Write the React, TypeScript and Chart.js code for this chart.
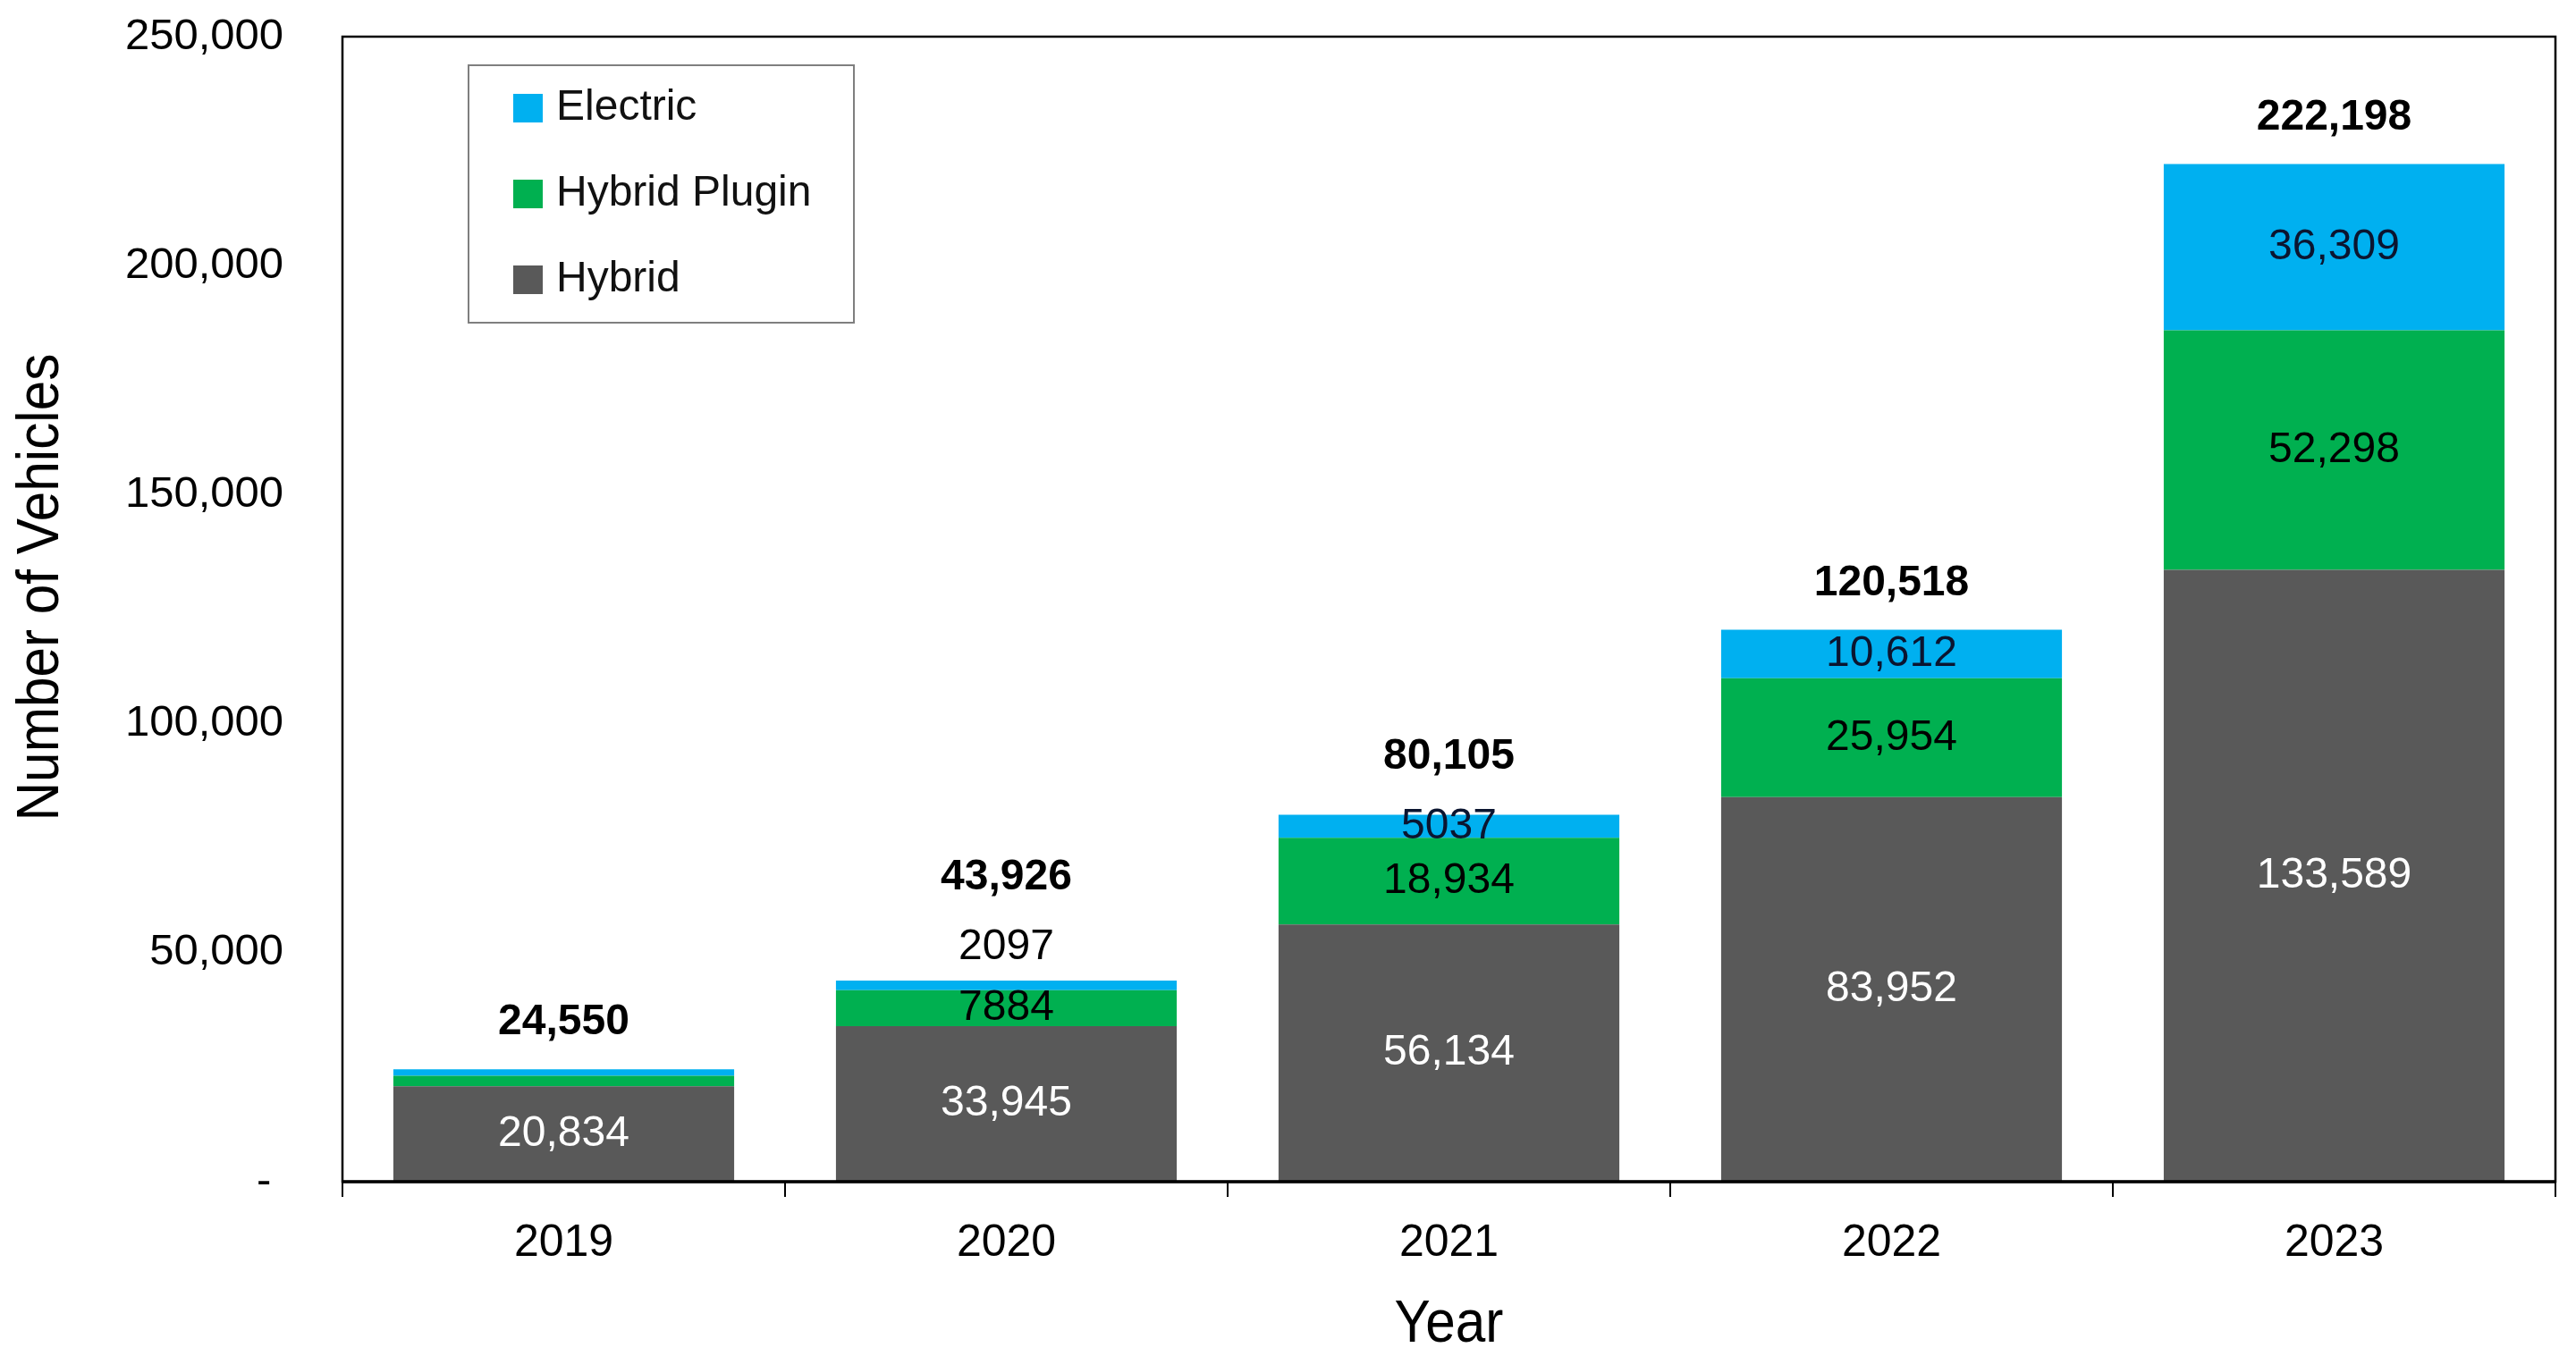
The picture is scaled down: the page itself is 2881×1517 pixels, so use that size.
import React, { useEffect, useRef } from "react";
import { Chart, registerables } from "chart.js";

Chart.register(...registerables);

// ---- data ----
const years = ["2019", "2020", "2021", "2022", "2023"];
const hybrid = [20834, 33945, 56134, 83952, 133589];
const hybridPlugin = [2300, 7884, 18934, 25954, 52298];
const electric = [1416, 2097, 5037, 10612, 36309];

const hybridLabels: (string | null)[] = ["20,834", "33,945", "56,134", "83,952", "133,589"];
const pluginLabels: (string | null)[] = [null, "7884", "18,934", "25,954", "52,298"];
const electricLabels: (string | null)[] = [null, "2097", "5037", "10,612", "36,309"];
const totalLabels = ["24,550", "43,926", "80,105", "120,518", "222,198"];

const seriesNames = ["Hybrid", "Hybrid Plugin", "Electric"];
const seriesColors = ["#595959", "#00B050", "#00B0F0"];

const xTitle = "Year";
const yTitle = "Number of Vehicles";

const FONT = "'Liberation Sans', Arial, sans-serif";

function drawNarrow(ctx: CanvasRenderingContext2D, text: string, x: number, y: number, rot: number) {
  ctx.save();
  ctx.translate(x, y);
  ctx.rotate(rot);
  ctx.scale(0.9, 1);
  ctx.textAlign = "center";
  ctx.textBaseline = "middle";
  ctx.fillStyle = "#000";
  ctx.font = `67px ${FONT}`;
  ctx.fillText(text, 0, 0);
  ctx.restore();
}

const overlayPlugin = {
  id: "overlay",
  afterDatasetsDraw(chart: any) {
    const ctx: CanvasRenderingContext2D = chart.ctx;
    const area = chart.chartArea;
    ctx.save();

    // frame
    ctx.strokeStyle = "#000";
    ctx.lineWidth = 2.5;
    ctx.strokeRect(area.left, area.top, area.right - area.left, area.bottom - area.top);
    ctx.lineWidth = 3.5;
    ctx.beginPath();
    ctx.moveTo(area.left, area.bottom);
    ctx.lineTo(area.right, area.bottom);
    ctx.stroke();

    // segment labels
    const labelSets = [hybridLabels, pluginLabels, electricLabels];
    const labelColors = ["#ffffff", "#000000", "#0b1530"];
    ctx.font = `48px ${FONT}`;
    ctx.textAlign = "center";
    ctx.textBaseline = "middle";
    const elecLabelY: (number | null)[] = years.map(() => null);
    chart.data.datasets.forEach((_ds: any, di: number) => {
      const meta = chart.getDatasetMeta(di);
      meta.data.forEach((bar: any, i: number) => {
        const txt = labelSets[di][i];
        if (!txt) return;
        const top = Math.min(bar.y, bar.base);
        const bottom = Math.max(bar.y, bar.base);
        const h = bottom - top;
        let y = (top + bottom) / 2;
        let color = labelColors[di];
        if (h < 20) {
          y = top - 37;
          color = "#000000";
        }
        if (di === 2) elecLabelY[i] = y;
        ctx.fillStyle = color;
        ctx.fillText(txt, bar.x, y);
      });
    });

    // totals
    ctx.font = `bold 48px ${FONT}`;
    ctx.fillStyle = "#000";
    const topMeta = chart.getDatasetMeta(2);
    topMeta.data.forEach((bar: any, i: number) => {
      let y = bar.y - 52;
      const ly = elecLabelY[i];
      if (ly != null) y = Math.min(y, ly - 78);
      ctx.fillText(totalLabels[i], bar.x, y);
    });

    // legend
    const lx = 524, ly0 = 73, lw = 431, lh = 288;
    ctx.fillStyle = "#fff";
    ctx.fillRect(lx, ly0, lw, lh);
    ctx.strokeStyle = "#7f7f7f";
    ctx.lineWidth = 2;
    ctx.strokeRect(lx, ly0, lw, lh);
    ctx.font = `48px ${FONT}`;
    ctx.textAlign = "left";
    ctx.textBaseline = "middle";
    const order = [2, 1, 0];
    order.forEach((di, k) => {
      const cy = 121 + k * 96;
      ctx.fillStyle = chart.data.datasets[di].backgroundColor;
      ctx.fillRect(574, cy - 16, 33, 32);
      ctx.fillStyle = "#111";
      ctx.fillText(chart.data.datasets[di].label, 622, cy);
    });

    // axis titles
    drawNarrow(ctx, yTitle, 47, 657, -Math.PI / 2);
    drawNarrow(ctx, xTitle, (area.left + area.right) / 2, 1483, 0);

    ctx.restore();
  },
};

export default function App() {
  const ref = useRef<HTMLCanvasElement | null>(null);

  useEffect(() => {
    if (!ref.current) return;
    const values = [hybrid, hybridPlugin, electric];
    const chart = new Chart(ref.current, {
      type: "bar",
      data: {
        labels: years,
        datasets: seriesNames.map((name, i) => ({
          label: name,
          data: values[i],
          backgroundColor: seriesColors[i],
          borderWidth: 0,
          barPercentage: 0.77,
          categoryPercentage: 1,
        })),
      },
      options: {
        responsive: false,
        animation: false,
        devicePixelRatio: 1,
        layout: { padding: { top: 41, right: 23, bottom: 0, left: 0 } },
        plugins: {
          legend: { display: false },
          tooltip: { enabled: false },
        },
        scales: {
          x: {
            stacked: true,
            offset: true,
            grid: {
              display: true,
              offset: true,
              drawOnChartArea: false,
              drawTicks: true,
              tickLength: 17,
              color: "#000",
              lineWidth: 2,
            },
            border: { display: false },
            ticks: { padding: 22, color: "#000", font: { family: FONT, size: 50 } },
            title: { display: false },
            afterFit: (s: any) => {
              s.height = 195;
              s.paddingLeft = 0;
              s.paddingRight = 0;
            },
          },
          y: {
            stacked: true,
            min: 0,
            max: 250000,
            grid: { display: false, drawTicks: false },
            border: { display: false },
            ticks: {
              stepSize: 50000,
              padding: 66,
              color: "#000",
              font: { family: FONT, size: 49 },
              callback: (v: any) => (Number(v) === 0 ? "- " : Number(v).toLocaleString("en-US")),
            },
            afterFit: (s: any) => {
              s.width = 383;
              s.paddingTop = 0;
              s.paddingBottom = 0;
            },
          },
        },
      } as any,
      plugins: [overlayPlugin as any],
    });
    return () => chart.destroy();
  }, []);

  return (
    <div style={{ position: "fixed", left: 0, top: 0, width: 2881, height: 1517, background: "#fff" }}>
      <canvas ref={ref} width={2881} height={1517} />
    </div>
  );
}
